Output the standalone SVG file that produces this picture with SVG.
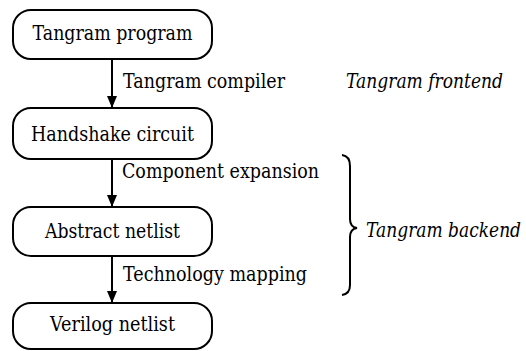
<svg xmlns="http://www.w3.org/2000/svg" width="526" height="351" viewBox="0 0 526 351">
<style>
.box{fill:#fff;stroke:#000;stroke-width:2}
.t{font-family:'DejaVu Serif','Liberation Serif',serif;font-size:20px;fill:#000}
.c{text-anchor:middle}
.i{font-style:italic}
.ln{stroke:#000;stroke-width:2;fill:none}
</style>
<defs>
<marker id="ah" markerUnits="userSpaceOnUse" markerWidth="12" markerHeight="10" refX="12" refY="5" orient="auto">
<path d="M0,0 L12,5 L0,10 z" fill="#000"/>
</marker>
</defs>
<g id="connectors">
<line class="ln" x1="112" y1="59" x2="112" y2="108" marker-end="url(#ah)"/>
<line class="ln" x1="112" y1="160" x2="112" y2="207" marker-end="url(#ah)"/>
<line class="ln" x1="112" y1="256" x2="112" y2="303" marker-end="url(#ah)"/>
<text class="t" x="123" y="88" textLength="162" lengthAdjust="spacingAndGlyphs">Tangram compiler</text>
<text class="t" x="122" y="178" textLength="197" lengthAdjust="spacingAndGlyphs">Component expansion</text>
<text class="t" x="123" y="281" textLength="184" lengthAdjust="spacingAndGlyphs">Technology mapping</text>
</g>
<g id="n1">
<rect class="box" x="13" y="10" width="199" height="49" rx="18" ry="18"/>
<text class="t c" x="112.5" y="40" textLength="160" lengthAdjust="spacingAndGlyphs">Tangram program</text>
</g>
<g id="n2">
<rect class="box" x="13" y="108" width="199" height="51" rx="18" ry="18"/>
<text class="t c" x="112.5" y="141" textLength="163" lengthAdjust="spacingAndGlyphs">Handshake circuit</text>
</g>
<g id="n3">
<rect class="box" x="13" y="207" width="199" height="49" rx="18" ry="18"/>
<text class="t c" x="112.5" y="238" textLength="135" lengthAdjust="spacingAndGlyphs">Abstract netlist</text>
</g>
<g id="n4">
<rect class="box" x="13" y="303" width="199" height="46" rx="18" ry="18"/>
<text class="t c" x="112.5" y="331" textLength="125" lengthAdjust="spacingAndGlyphs">Verilog netlist</text>
</g>
<g id="frontend" transform="translate(346,88) scale(0.85,1)">
<text class="t i" x="0" y="0" textLength="184.7" lengthAdjust="spacingAndGlyphs">Tangram frontend</text>
</g>
<g id="backend">
<path class="ln" d="M342,155 Q350,156 350,166 L350,219 Q350,227 357,228 Q350,229 350,237 L350,285 Q350,294 342,295"/>
<g transform="translate(366,237) scale(0.85,1)">
<text class="t i" x="0" y="0" textLength="182.4" lengthAdjust="spacingAndGlyphs">Tangram backend</text>
</g>
</g>
</svg>
